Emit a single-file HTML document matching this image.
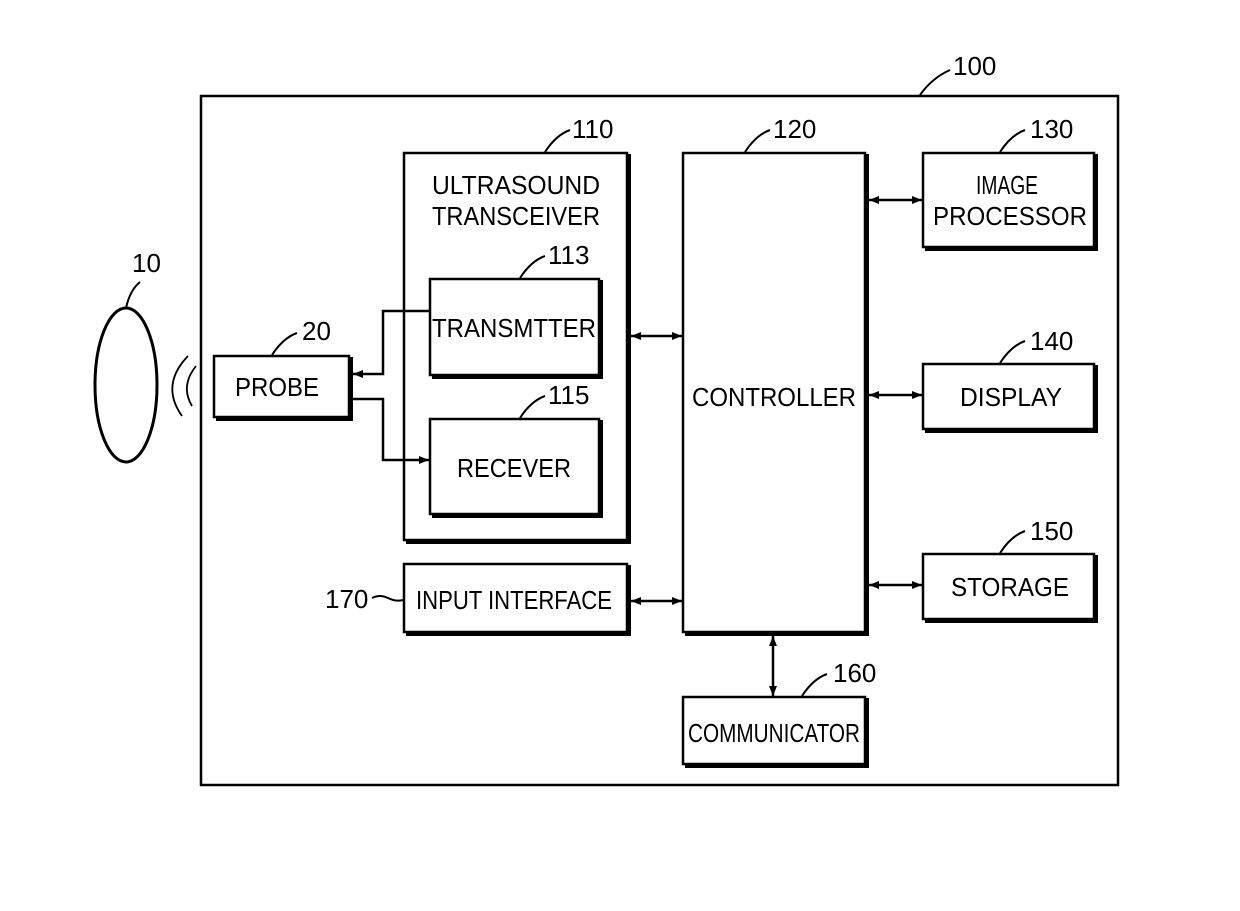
<!DOCTYPE html>
<html><head><meta charset="utf-8"><style>
html,body{margin:0;padding:0;background:#fff;}
svg{display:block;}
text{font-family:"Liberation Sans",sans-serif;font-size:26px;fill:#000;}
</style></head><body>
<svg width="1240" height="911" viewBox="0 0 1240 911" xmlns="http://www.w3.org/2000/svg">
<defs>
<marker id="a" viewBox="0 0 10 10" refX="10" refY="5" markerWidth="16" markerHeight="10" markerUnits="userSpaceOnUse" orient="auto-start-reverse"><path d="M0,1 L10,5 L0,9 z" fill="#000"/></marker>
</defs>
<g fill="none" stroke="#000">
<rect x="201" y="96" width="917" height="689" stroke-width="2.5"/>
<g stroke-width="2.5">
<rect x="404" y="153" width="223" height="387"/>
<rect x="430" y="279" width="169" height="96"/>
<rect x="430" y="419" width="169" height="95"/>
<rect x="214" y="356" width="135" height="61"/>
<rect x="683" y="153" width="182" height="479"/>
<rect x="923" y="153" width="171" height="94"/>
<rect x="923" y="364" width="171" height="65"/>
<rect x="923" y="554" width="171" height="65"/>
<rect x="683" y="697" width="182" height="67"/>
<rect x="404" y="564" width="223" height="68"/>
</g>
<g stroke-width="4">
<polyline points="629,154 629,542 406,542"/>
<polyline points="601,280 601,377 432,377"/>
<polyline points="601,420 601,516 432,516"/>
<polyline points="351,357 351,419 216,419"/>
<polyline points="867,154 867,634 685,634"/>
<polyline points="1096,154 1096,249 925,249"/>
<polyline points="1096,365 1096,431 925,431"/>
<polyline points="1096,555 1096,621 925,621"/>
<polyline points="867,698 867,766 685,766"/>
<polyline points="629,565 629,634 406,634"/>
</g>
<g stroke-width="2.5">
<polyline points="430,311 383,311 383,374 353,374" marker-end="url(#a)"/>
<polyline points="353,399 383,399 383,460 429,460" marker-end="url(#a)"/>
<line x1="631" y1="336" x2="682" y2="336" marker-start="url(#a)" marker-end="url(#a)"/>
<line x1="869" y1="200" x2="922" y2="200" marker-start="url(#a)" marker-end="url(#a)"/>
<line x1="869" y1="395" x2="922" y2="395" marker-start="url(#a)" marker-end="url(#a)"/>
<line x1="869" y1="585" x2="922" y2="585" marker-start="url(#a)" marker-end="url(#a)"/>
<line x1="631" y1="601" x2="682" y2="601" marker-start="url(#a)" marker-end="url(#a)"/>
<line x1="773" y1="636" x2="773" y2="696" marker-start="url(#a)" marker-end="url(#a)"/>
</g>
<ellipse cx="126" cy="385" rx="31" ry="77" stroke-width="3"/>
<path d="M188,356 Q160,385 182,416" stroke-width="1.8"/>
<path d="M196,366 Q180,386 192,406" stroke-width="1.8"/>
<g stroke-width="2">
<path d="M920,95 Q932,78 950,70"/>
<path d="M545,152 Q556,135 570,130"/>
<path d="M745,152 Q756,135 770,130"/>
<path d="M1000,152 Q1011,135 1025,130"/>
<path d="M520,278 Q531,261 545,256"/>
<path d="M520,418 Q531,401 545,396"/>
<path d="M1000,363 Q1011,346 1025,341"/>
<path d="M1000,553 Q1011,536 1025,531"/>
<path d="M802,696 Q813,679 827,674"/>
<path d="M272,355 Q283,338 297,333"/>
<path d="M126,308 Q130,290 140,282"/>
<path d="M372,598 Q380,594 388,598 Q396,602 403,600"/>
</g>
</g>
<text x="953" y="75">100</text>
<text x="572" y="138">110</text>
<text x="773" y="138">120</text>
<text x="1030" y="138">130</text>
<text x="548" y="264">113</text>
<text x="548" y="404">115</text>
<text x="1030" y="350">140</text>
<text x="1030" y="540">150</text>
<text x="833" y="682">160</text>
<text x="302" y="340">20</text>
<text x="132" y="272">10</text>
<text x="325" y="608">170</text>
<g text-anchor="middle">
<text x="516" y="194" textLength="168" lengthAdjust="spacingAndGlyphs">ULTRASOUND</text>
<text x="516" y="225" textLength="168" lengthAdjust="spacingAndGlyphs">TRANSCEIVER</text>
<text x="514" y="337" textLength="164" lengthAdjust="spacingAndGlyphs">TRANSMTTER</text>
<text x="514" y="477" textLength="114" lengthAdjust="spacingAndGlyphs">RECEVER</text>
<text x="277" y="396" textLength="84" lengthAdjust="spacingAndGlyphs">PROBE</text>
<text x="774" y="406" textLength="164" lengthAdjust="spacingAndGlyphs">CONTROLLER</text>
<text x="1007" y="194" textLength="62" lengthAdjust="spacingAndGlyphs">IMAGE</text>
<text x="1010" y="225" textLength="154" lengthAdjust="spacingAndGlyphs">PROCESSOR</text>
<text x="1011" y="406" textLength="102" lengthAdjust="spacingAndGlyphs">DISPLAY</text>
<text x="1010" y="596" textLength="118" lengthAdjust="spacingAndGlyphs">STORAGE</text>
<text x="774" y="742" textLength="172" lengthAdjust="spacingAndGlyphs">COMMUNICATOR</text>
<text x="514" y="609" textLength="196" lengthAdjust="spacingAndGlyphs">INPUT INTERFACE</text>
</g>
</svg>
</body></html>
